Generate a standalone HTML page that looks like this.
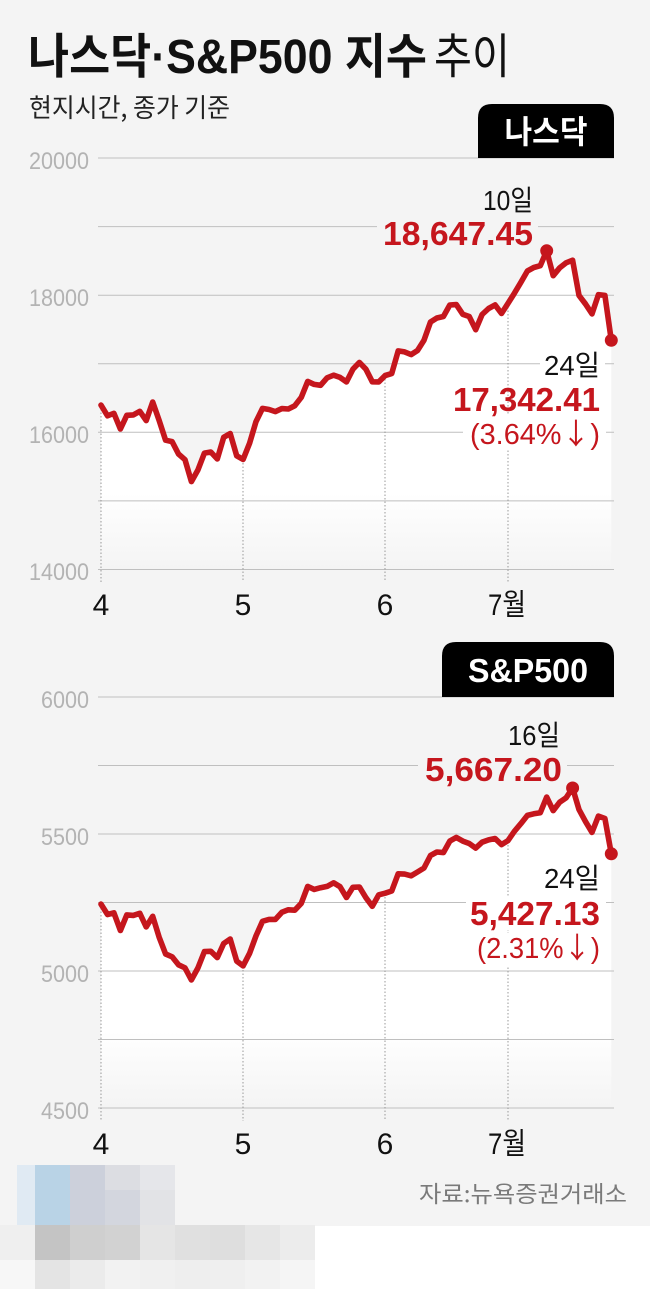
<!DOCTYPE html>
<html><head><meta charset="utf-8">
<style>
html,body{margin:0;padding:0;background:#fff;}
body{width:650px;height:1289px;overflow:hidden;}
svg{display:block;}
text{font-family:"Liberation Sans","Noto Sans CJK KR",sans-serif;}
.kr{font-family:"Noto Sans CJK KR","Liberation Sans",sans-serif;}
.ar{font-family:"Noto Sans CJK KR","DejaVu Sans",sans-serif;}
</style></head>
<body>
<svg width="650" height="1289" viewBox="0 0 650 1289" xmlns="http://www.w3.org/2000/svg">
<defs>
<linearGradient id="g1" gradientUnits="userSpaceOnUse" x1="0" y1="250" x2="0" y2="570">
<stop offset="0" stop-color="#ffffff"/><stop offset="0.76" stop-color="#ffffff"/><stop offset="1" stop-color="#f4f4f4"/>
</linearGradient>
<linearGradient id="g2" gradientUnits="userSpaceOnUse" x1="0" y1="788" x2="0" y2="1108">
<stop offset="0" stop-color="#ffffff"/><stop offset="0.76" stop-color="#ffffff"/><stop offset="1" stop-color="#f4f4f4"/>
</linearGradient>
</defs>
<rect x="0" y="0" width="650" height="1226" fill="#f4f4f4"/>
<rect x="0" y="1226" width="650" height="63" fill="#ffffff"/>

<!-- Title -->
<text x="28" y="73" font-size="48" font-weight="700" fill="#111" textLength="399" lengthAdjust="spacingAndGlyphs">나스닥·S&amp;P500 지수</text>
<text class="kr" x="434" y="73" font-size="48" font-weight="400" fill="#111" textLength="76" lengthAdjust="spacingAndGlyphs">추이</text>
<text class="kr" x="29" y="117" font-size="26" fill="#222" textLength="201" lengthAdjust="spacingAndGlyphs">현지시간, 종가 기준</text>

<!-- ===== NASDAQ ===== -->
<polygon fill="url(#g1)" points="101.0,405.1 107.5,415.8 113.9,413.3 120.4,429.0 126.8,415.3 133.3,414.9 139.8,411.3 146.2,420.6 152.7,402.0 159.1,420.3 165.6,440.2 172.1,441.6 178.5,454.0 185.0,459.7 191.4,481.6 197.9,470.0 204.4,453.1 210.8,452.0 217.3,459.0 223.7,437.3 230.2,433.5 236.7,455.8 243.1,459.4 249.6,443.2 256.0,421.6 262.5,408.4 269.0,409.5 275.4,411.6 281.9,408.6 288.3,409.0 294.8,405.7 301.3,397.3 307.7,381.4 314.2,384.4 320.6,385.3 327.1,377.8 333.6,375.2 340.0,377.4 346.5,381.9 352.9,369.2 359.4,362.4 365.9,369.2 372.3,381.8 378.8,381.9 385.2,375.5 391.7,373.6 398.2,350.9 404.6,351.9 411.1,354.6 417.5,350.5 424.0,340.2 430.5,322.0 436.9,318.0 443.4,316.5 449.8,305.0 456.3,304.6 462.8,314.3 469.2,316.5 475.7,329.7 482.1,314.5 488.6,308.5 495.1,304.9 501.5,313.5 508.0,303.4 514.4,293.2 520.9,282.3 527.4,271.0 533.8,267.5 540.3,265.7 546.7,250.8 553.2,275.7 559.7,267.8 566.1,262.8 572.6,260.2 579.0,295.4 585.5,304.0 592.0,313.9 598.4,294.7 604.9,295.4 611.3,340.3 611.3,569.5 101,569.5"/>
<g stroke="#bfbfbf" stroke-width="1">
<line x1="98" y1="158" x2="614" y2="158"/>
<line x1="98" y1="226.6" x2="614" y2="226.6"/>
<line x1="98" y1="295.2" x2="614" y2="295.2"/>
<line x1="98" y1="363.8" x2="614" y2="363.8"/>
<line x1="98" y1="432.3" x2="614" y2="432.3"/>
<line x1="98" y1="500.9" x2="614" y2="500.9"/>
<line x1="98" y1="569.5" x2="614" y2="569.5"/>
</g>
<g stroke="#999" stroke-width="1" stroke-dasharray="1.5,2">
<line x1="101" y1="409" x2="101" y2="582"/>
<line x1="243" y1="463" x2="243" y2="582"/>
<line x1="385" y1="379" x2="385" y2="582"/>
<line x1="508" y1="307" x2="508" y2="582"/>
</g>
<g font-size="24" fill="#b3b3b3" text-anchor="end">
<text x="89" y="169" textLength="60" lengthAdjust="spacingAndGlyphs">20000</text>
<text x="89" y="306" textLength="60" lengthAdjust="spacingAndGlyphs">18000</text>
<text x="89" y="443" textLength="60" lengthAdjust="spacingAndGlyphs">16000</text>
<text x="89" y="580" textLength="60" lengthAdjust="spacingAndGlyphs">14000</text>
</g>
<g font-size="30" fill="#111" text-anchor="middle">
<text x="101" y="615">4</text>
<text x="243" y="615">5</text>
<text x="385" y="615">6</text>
<text x="507" y="615" textLength="38" lengthAdjust="spacingAndGlyphs">7월</text>
</g>
<path d="M478,158 V118 Q478,104 492,104 H600 Q614,104 614,118 V158 Z" fill="#000"/>
<text class="kr" x="546" y="143" font-size="32" font-weight="700" fill="#fff" text-anchor="middle" textLength="83" lengthAdjust="spacingAndGlyphs">나스닥</text>

<polyline fill="none" stroke="#c5161d" stroke-width="5.6" stroke-linejoin="round" stroke-linecap="round" points="101.0,405.1 107.5,415.8 113.9,413.3 120.4,429.0 126.8,415.3 133.3,414.9 139.8,411.3 146.2,420.6 152.7,402.0 159.1,420.3 165.6,440.2 172.1,441.6 178.5,454.0 185.0,459.7 191.4,481.6 197.9,470.0 204.4,453.1 210.8,452.0 217.3,459.0 223.7,437.3 230.2,433.5 236.7,455.8 243.1,459.4 249.6,443.2 256.0,421.6 262.5,408.4 269.0,409.5 275.4,411.6 281.9,408.6 288.3,409.0 294.8,405.7 301.3,397.3 307.7,381.4 314.2,384.4 320.6,385.3 327.1,377.8 333.6,375.2 340.0,377.4 346.5,381.9 352.9,369.2 359.4,362.4 365.9,369.2 372.3,381.8 378.8,381.9 385.2,375.5 391.7,373.6 398.2,350.9 404.6,351.9 411.1,354.6 417.5,350.5 424.0,340.2 430.5,322.0 436.9,318.0 443.4,316.5 449.8,305.0 456.3,304.6 462.8,314.3 469.2,316.5 475.7,329.7 482.1,314.5 488.6,308.5 495.1,304.9 501.5,313.5 508.0,303.4 514.4,293.2 520.9,282.3 527.4,271.0 533.8,267.5 540.3,265.7 546.7,250.8 553.2,275.7 559.7,267.8 566.1,262.8 572.6,260.2 579.0,295.4 585.5,304.0 592.0,313.9 598.4,294.7 604.9,295.4 611.3,340.3"/>
<circle cx="546.7" cy="250.8" r="6.5" fill="#c5161d"/>
<circle cx="611.3" cy="340.3" r="6.5" fill="#c5161d"/>

<rect x="377" y="219" width="161" height="30" fill="#f4f4f4"/>
<rect x="540" y="352" width="65" height="28" fill="#fff"/>
<rect x="463" y="414" width="143" height="36" fill="#fff"/>
<text x="533" y="210" font-size="28" fill="#111" text-anchor="end" textLength="50" lengthAdjust="spacingAndGlyphs">10일</text>
<text x="533" y="245" font-size="33" font-weight="700" fill="#c5161d" text-anchor="end" textLength="150" lengthAdjust="spacingAndGlyphs">18,647.45</text>
<text x="600" y="375" font-size="28" fill="#111" text-anchor="end" textLength="56" lengthAdjust="spacingAndGlyphs">24일</text>
<text x="600" y="411" font-size="33" font-weight="700" fill="#c5161d" text-anchor="end" textLength="147" lengthAdjust="spacingAndGlyphs">17,342.41</text>
<text x="600" y="444" font-size="29" fill="#c5161d" text-anchor="end" textLength="130" lengthAdjust="spacingAndGlyphs">(3.64%<tspan class="ar">↓</tspan>)</text>

<!-- ===== S&P500 ===== -->
<polygon fill="url(#g2)" points="101.0,904.1 107.5,914.5 113.9,912.9 120.4,930.5 126.8,914.9 133.3,915.4 139.8,913.3 146.2,926.9 152.7,916.3 159.1,937.1 165.6,954.0 172.1,956.8 178.5,964.8 185.0,967.9 191.4,979.9 197.9,968.0 204.4,951.6 210.8,951.3 217.3,957.6 223.7,943.5 230.2,939.0 236.7,961.1 243.1,965.9 249.6,953.3 256.0,935.9 262.5,921.3 269.0,919.4 275.4,919.4 281.9,912.2 288.3,909.8 294.8,910.2 301.3,903.3 307.7,886.4 314.2,889.4 320.6,887.7 327.1,886.4 333.6,882.8 340.0,886.7 346.5,897.5 352.9,887.3 359.4,887.0 365.9,897.7 372.3,906.3 378.8,894.8 385.2,893.2 391.7,891.0 398.2,873.8 404.6,874.1 411.1,875.8 417.5,872.0 424.0,868.0 430.5,855.5 436.9,852.0 443.4,852.6 449.8,841.1 456.3,837.4 462.8,841.1 469.2,843.5 475.7,848.1 482.1,842.2 488.6,839.9 495.1,838.5 501.5,844.6 508.0,840.6 514.4,831.3 520.9,823.6 527.4,815.4 533.8,813.8 540.3,812.7 546.7,797.1 553.2,810.6 559.7,802.2 566.1,797.8 572.6,788.0 579.0,809.6 585.5,821.6 592.0,832.4 598.4,816.1 604.9,818.5 611.3,853.8 611.3,1108 101,1108"/>
<g stroke="#bfbfbf" stroke-width="1">
<line x1="98" y1="697" x2="614" y2="697"/>
<line x1="98" y1="765.5" x2="614" y2="765.5"/>
<line x1="98" y1="834" x2="614" y2="834"/>
<line x1="98" y1="902.5" x2="614" y2="902.5"/>
<line x1="98" y1="971" x2="614" y2="971"/>
<line x1="98" y1="1039.5" x2="614" y2="1039.5"/>
<line x1="98" y1="1108" x2="614" y2="1108"/>
</g>
<g stroke="#999" stroke-width="1" stroke-dasharray="1.5,2">
<line x1="101" y1="908" x2="101" y2="1121"/>
<line x1="243" y1="970" x2="243" y2="1121"/>
<line x1="385" y1="897" x2="385" y2="1121"/>
<line x1="508" y1="845" x2="508" y2="1121"/>
</g>
<g font-size="24" fill="#b3b3b3" text-anchor="end">
<text x="89" y="708" textLength="48" lengthAdjust="spacingAndGlyphs">6000</text>
<text x="89" y="845" textLength="48" lengthAdjust="spacingAndGlyphs">5500</text>
<text x="89" y="982" textLength="48" lengthAdjust="spacingAndGlyphs">5000</text>
<text x="89" y="1119" textLength="48" lengthAdjust="spacingAndGlyphs">4500</text>
</g>
<g font-size="30" fill="#111" text-anchor="middle">
<text x="101" y="1154">4</text>
<text x="243" y="1154">5</text>
<text x="385" y="1154">6</text>
<text x="507" y="1154" textLength="38" lengthAdjust="spacingAndGlyphs">7월</text>
</g>
<path d="M442,697 V656 Q442,642 456,642 H600 Q614,642 614,656 V697 Z" fill="#000"/>
<text x="528" y="682" font-size="33" font-weight="700" fill="#fff" text-anchor="middle" textLength="120" lengthAdjust="spacingAndGlyphs">S&amp;P500</text>

<polyline fill="none" stroke="#c5161d" stroke-width="5.6" stroke-linejoin="round" stroke-linecap="round" points="101.0,904.1 107.5,914.5 113.9,912.9 120.4,930.5 126.8,914.9 133.3,915.4 139.8,913.3 146.2,926.9 152.7,916.3 159.1,937.1 165.6,954.0 172.1,956.8 178.5,964.8 185.0,967.9 191.4,979.9 197.9,968.0 204.4,951.6 210.8,951.3 217.3,957.6 223.7,943.5 230.2,939.0 236.7,961.1 243.1,965.9 249.6,953.3 256.0,935.9 262.5,921.3 269.0,919.4 275.4,919.4 281.9,912.2 288.3,909.8 294.8,910.2 301.3,903.3 307.7,886.4 314.2,889.4 320.6,887.7 327.1,886.4 333.6,882.8 340.0,886.7 346.5,897.5 352.9,887.3 359.4,887.0 365.9,897.7 372.3,906.3 378.8,894.8 385.2,893.2 391.7,891.0 398.2,873.8 404.6,874.1 411.1,875.8 417.5,872.0 424.0,868.0 430.5,855.5 436.9,852.0 443.4,852.6 449.8,841.1 456.3,837.4 462.8,841.1 469.2,843.5 475.7,848.1 482.1,842.2 488.6,839.9 495.1,838.5 501.5,844.6 508.0,840.6 514.4,831.3 520.9,823.6 527.4,815.4 533.8,813.8 540.3,812.7 546.7,797.1 553.2,810.6 559.7,802.2 566.1,797.8 572.6,788.0 579.0,809.6 585.5,821.6 592.0,832.4 598.4,816.1 604.9,818.5 611.3,853.8"/>
<circle cx="572.6" cy="788.0" r="6.5" fill="#c5161d"/>
<circle cx="611.3" cy="853.8" r="6.5" fill="#c5161d"/>

<rect x="418" y="754" width="149" height="31" fill="#f4f4f4"/>
<rect x="466" y="897" width="140" height="33" fill="#fff"/>
<rect x="470" y="933" width="134" height="34" fill="#fff"/>
<text x="560" y="745" font-size="28" fill="#111" text-anchor="end" textLength="52" lengthAdjust="spacingAndGlyphs">16일</text>
<text x="562" y="781" font-size="33" font-weight="700" fill="#c5161d" text-anchor="end" textLength="137" lengthAdjust="spacingAndGlyphs">5,667.20</text>
<text x="600" y="888" font-size="28" fill="#111" text-anchor="end" textLength="56" lengthAdjust="spacingAndGlyphs">24일</text>
<text x="600" y="925" font-size="33" font-weight="700" fill="#c5161d" text-anchor="end" textLength="130" lengthAdjust="spacingAndGlyphs">5,427.13</text>
<text x="600" y="958" font-size="29" fill="#c5161d" text-anchor="end" textLength="123" lengthAdjust="spacingAndGlyphs">(2.31%<tspan class="ar">↓</tspan>)</text>

<!-- Source -->
<text class="kr" x="627" y="1202" font-size="23" fill="#7a7a7a" text-anchor="end" textLength="208" lengthAdjust="spacingAndGlyphs">자료:뉴욕증권거래소</text>

<!-- Mosaic -->
<g>
<rect x="17" y="1165" width="18" height="60" fill="#e0eaf3"/>
<rect x="35" y="1165" width="35" height="60" fill="#b9d3e6"/>
<rect x="70" y="1165" width="35" height="60" fill="#ccd0db"/>
<rect x="105" y="1165" width="35" height="25" fill="#dcdde2"/>
<rect x="105" y="1190" width="35" height="35" fill="#d3d6de"/>
<rect x="140" y="1165" width="35" height="25" fill="#e5e6ea"/>
<rect x="140" y="1190" width="35" height="35" fill="#e2e3e6"/>
<rect x="0" y="1225" width="35" height="35" fill="#efefef"/>
<rect x="35" y="1225" width="35" height="35" fill="#c4c4c4"/>
<rect x="70" y="1225" width="35" height="35" fill="#cfcfcf"/>
<rect x="105" y="1225" width="35" height="35" fill="#d2d2d2"/>
<rect x="140" y="1225" width="35" height="35" fill="#e5e5e5"/>
<rect x="175" y="1225" width="35" height="35" fill="#e0e0e0"/>
<rect x="210" y="1225" width="35" height="35" fill="#dedede"/>
<rect x="245" y="1225" width="35" height="35" fill="#e6e6e6"/>
<rect x="280" y="1225" width="35" height="35" fill="#ececec"/>
<rect x="0" y="1260" width="35" height="29" fill="#f7f7f7"/>
<rect x="35" y="1260" width="35" height="29" fill="#e4e4e4"/>
<rect x="70" y="1260" width="35" height="29" fill="#ebebeb"/>
<rect x="105" y="1260" width="35" height="29" fill="#f2f2f2"/>
<rect x="140" y="1260" width="35" height="29" fill="#f0f0f0"/>
<rect x="175" y="1260" width="35" height="29" fill="#eeeeee"/>
<rect x="210" y="1260" width="35" height="29" fill="#efefef"/>
<rect x="245" y="1260" width="35" height="29" fill="#f2f2f2"/>
<rect x="280" y="1260" width="35" height="29" fill="#f5f5f5"/>
</g>
</svg>
</body></html>
